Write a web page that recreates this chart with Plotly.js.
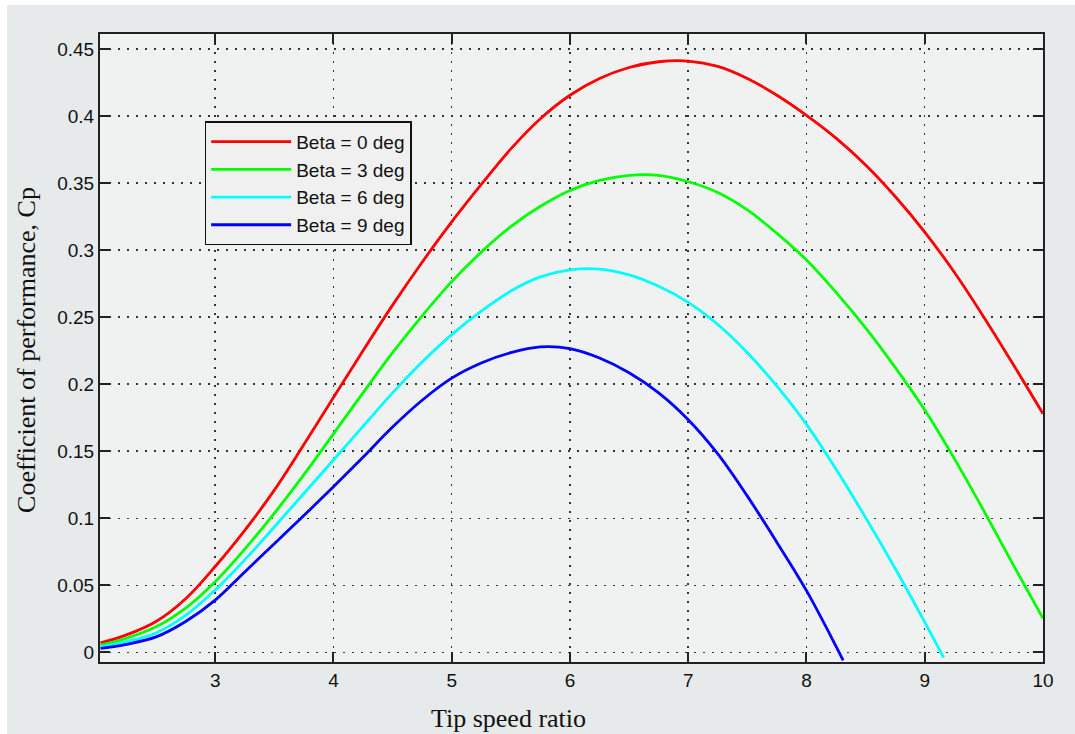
<!DOCTYPE html>
<html>
<head>
<meta charset="utf-8">
<script src="https://cdn.plot.ly/plotly-3.0.1.min.js"></script>
<style>
  html, body { margin: 0; padding: 0; background: #ffffff; }
  #chart { position: absolute; left: 7px; top: 5px; width: 1068px; height: 729px; }
</style>
</head>
<body>
<div id="chart"></div>
<script>
// Series names
const seriesNames = ["Beta = 0 deg", "Beta = 3 deg", "Beta = 6 deg", "Beta = 9 deg"];

// Beta = 0 deg
const beta0X = [2.03, 2.25, 2.5, 2.75, 3.0, 3.25, 3.5, 3.75, 4.0, 4.25, 4.5, 4.75, 5.0, 5.25, 5.5, 5.75, 6.0, 6.25, 6.5, 6.75, 7.0, 7.25, 7.5, 7.75, 8.0, 8.25, 8.5, 8.75, 9.0, 9.25, 9.5, 9.75, 10.0];
const beta0Y = [0.007, 0.013, 0.023, 0.040, 0.064, 0.091, 0.121, 0.155, 0.190, 0.225, 0.259, 0.291, 0.321, 0.349, 0.3755, 0.398, 0.4155, 0.428, 0.4362, 0.4405, 0.441, 0.437, 0.428, 0.4155, 0.4005, 0.3835, 0.3635, 0.340, 0.3135, 0.2835, 0.250, 0.2145, 0.178];

// Beta = 3 deg
const beta3X = [2.03, 2.25, 2.5, 2.75, 3.0, 3.25, 3.5, 3.75, 4.0, 4.25, 4.5, 4.75, 5.0, 5.25, 5.5, 5.75, 6.0, 6.25, 6.5, 6.75, 7.0, 7.25, 7.5, 7.75, 8.0, 8.25, 8.5, 8.75, 9.0, 9.25, 9.5, 9.75, 10.0];
const beta3Y = [0.0054, 0.0105, 0.019, 0.033, 0.0527, 0.077, 0.1037, 0.1325, 0.163, 0.1935, 0.2235, 0.251, 0.2765, 0.2985, 0.3175, 0.3327, 0.3445, 0.352, 0.3558, 0.3558, 0.351, 0.343, 0.330, 0.3125, 0.2926, 0.2685, 0.242, 0.2125, 0.1807, 0.1445, 0.1055, 0.065, 0.0254];

// Beta = 6 deg
const beta6X = [2.03, 2.25, 2.5, 2.75, 3.0, 3.25, 3.5, 3.75, 4.0, 4.25, 4.5, 4.75, 5.0, 5.25, 5.5, 5.75, 6.0, 6.25, 6.5, 6.75, 7.0, 7.25, 7.5, 7.75, 8.0, 8.25, 8.5, 8.75, 9.0, 9.16];
const beta6Y = [0.004, 0.008, 0.0145, 0.0275, 0.0465, 0.069, 0.0935, 0.1185, 0.1435, 0.1685, 0.1935, 0.2165, 0.237, 0.2545, 0.2695, 0.280, 0.2852, 0.2858, 0.2815, 0.273, 0.261, 0.2445, 0.2235, 0.1985, 0.170, 0.1365, 0.1005, 0.0625, 0.0225, -0.004];

// Beta = 9 deg
const beta9X = [2.03, 2.25, 2.5, 2.75, 3.0, 3.25, 3.5, 3.75, 4.0, 4.25, 4.5, 4.75, 5.0, 5.25, 5.5, 5.75, 6.0, 6.25, 6.5, 6.75, 7.0, 7.25, 7.5, 7.75, 8.0, 8.25, 8.31];
const beta9Y = [0.003, 0.006, 0.0115, 0.023, 0.039, 0.060, 0.081, 0.102, 0.1235, 0.1455, 0.168, 0.188, 0.2045, 0.2158, 0.2235, 0.2278, 0.2265, 0.2195, 0.2085, 0.1935, 0.1735, 0.148, 0.1165, 0.082, 0.046, 0.0045, -0.0060];

// Tick values / labels
const xTickVals = [3, 4, 5, 6, 7, 8, 9, 10];
const xTickText = ["3", "4", "5", "6", "7", "8", "9", "10"];
const yTickVals = [0, 0.05, 0.1, 0.15, 0.2, 0.25, 0.3, 0.35, 0.4, 0.45];
const yTickText = ["0", "0.05", "0.1", "0.15", "0.2", "0.25", "0.3", "0.35", "0.4", "0.45"];

const xTitle = "Tip speed ratio";
const yTitle = "Coefficient of performance, Cp";

const colors = ["#ff0000", "#00ff00", "#00ffff", "#0000ff"];
const xs = [beta0X, beta3X, beta6X, beta9X];
const ys = [beta0Y, beta3Y, beta6Y, beta9Y];

const traces = seriesNames.map((name, i) => ({
  type: "scatter",
  mode: "lines",
  name: name,
  x: xs[i],
  y: ys[i],
  line: { color: colors[i], width: 2.8, shape: "spline", smoothing: 1 }
}));

const axisCommon = {
  showline: true,
  linecolor: "#222222",
  linewidth: 2,
  mirror: "ticks",
  ticks: "inside",
  ticklen: 10,
  tickwidth: 2,
  tickcolor: "#222222",
  showgrid: true,
  gridcolor: "#333333",
  gridwidth: 1.5,
  griddash: "1.5px,7.5px",
  zeroline: false,
  tickfont: { family: "Liberation Sans, Arial, sans-serif", size: 19, color: "#111111" }
};

const layout = {
  width: 1068,
  height: 729,
  margin: { l: 93, r: 32, t: 29, b: 72 },
  paper_bgcolor: "#e6eaea",
  plot_bgcolor: "#f0f1f1",
  showlegend: true,
  legend: {
    x: 0.111, y: 0.861, xanchor: "left", yanchor: "top",
    bgcolor: "#f0f0f0",
    bordercolor: "#111111",
    borderwidth: 1.5,
    font: { family: "Liberation Sans, Arial, sans-serif", size: 19, color: "#111111" },
    itemwidth: 80
  },
  xaxis: Object.assign({}, axisCommon, {
    range: [2.026, 10],
    tickmode: "array",
    tickvals: xTickVals,
    ticktext: xTickText
  }),
  yaxis: Object.assign({}, axisCommon, {
    range: [-0.0072, 0.4612],
    tickmode: "array",
    tickvals: yTickVals,
    ticktext: yTickText
  }),
  annotations: [
    {
      text: xTitle, xref: "paper", yref: "paper",
      x: 0.4328, y: -0.0892, xanchor: "center", yanchor: "middle",
      showarrow: false,
      font: { family: "Liberation Serif, Times New Roman, serif", size: 26, color: "#111111" }
    },
    {
      text: yTitle, xref: "paper", yref: "paper",
      x: -0.0774, y: 0.497, xanchor: "center", yanchor: "middle",
      textangle: -90, showarrow: false,
      font: { family: "Liberation Serif, Times New Roman, serif", size: 26, color: "#111111" }
    }
  ]
};

Plotly.newPlot("chart", traces, layout, { displayModeBar: false, staticPlot: true });
</script>
</body>
</html>
